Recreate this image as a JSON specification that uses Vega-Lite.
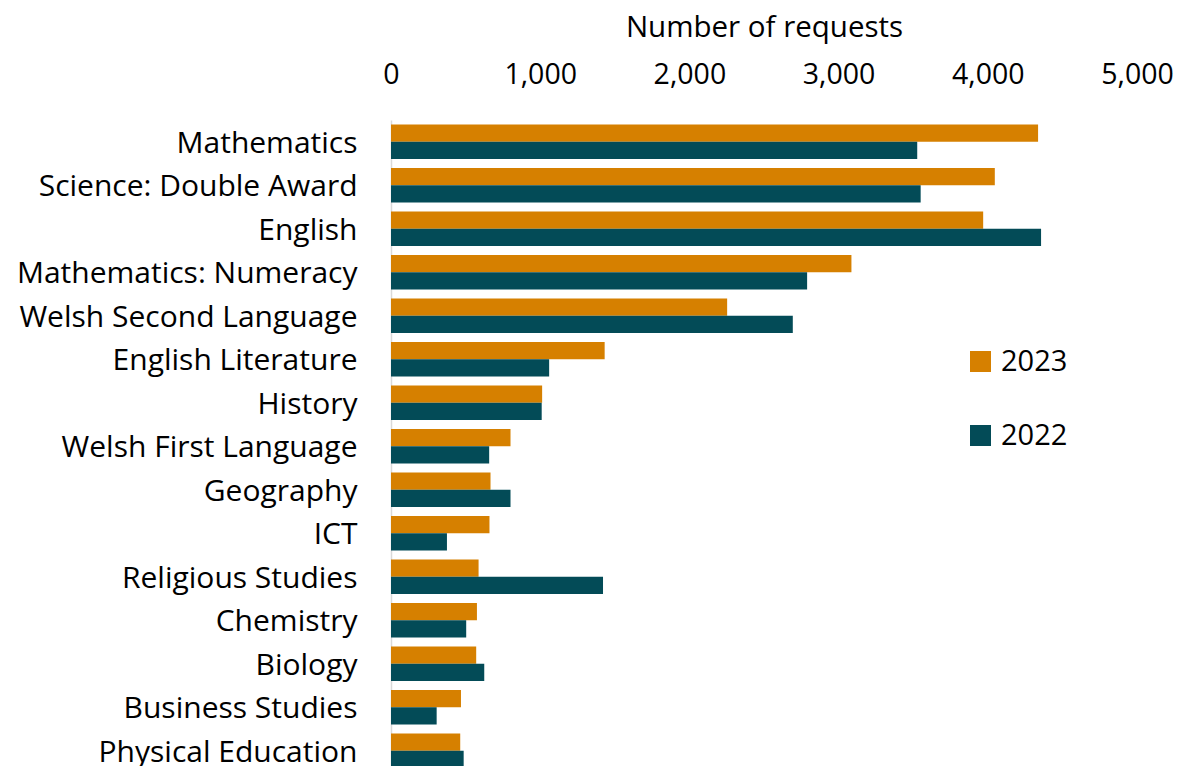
{
  "$schema": "https://vega.github.io/schema/vega-lite/v6.json",
  "autosize": {"type": "none"},
  "padding": {"left": 391, "top": 120, "right": 44, "bottom": 0},
  "width": 746,
  "height": 646,
  "background": "white",
  "config": {
    "view": {"stroke": null},
    "font": "Open Sans",
    "axis": {"labelFont": "Open Sans", "titleFont": "Open Sans", "labelColor": "#000000", "titleColor": "#000000"},
    "legend": {"labelFont": "Open Sans", "labelColor": "#000000"}
  },
  "data": {
    "values": [
      {"subject": "Mathematics", "year": "2023", "requests": 4337},
      {"subject": "Mathematics", "year": "2022", "requests": 3527},
      {"subject": "Science: Double Award", "year": "2023", "requests": 4047},
      {"subject": "Science: Double Award", "year": "2022", "requests": 3550},
      {"subject": "English", "year": "2023", "requests": 3969},
      {"subject": "English", "year": "2022", "requests": 4357},
      {"subject": "Mathematics: Numeracy", "year": "2023", "requests": 3086},
      {"subject": "Mathematics: Numeracy", "year": "2022", "requests": 2789},
      {"subject": "Welsh Second Language", "year": "2023", "requests": 2253},
      {"subject": "Welsh Second Language", "year": "2022", "requests": 2693},
      {"subject": "English Literature", "year": "2023", "requests": 1432},
      {"subject": "English Literature", "year": "2022", "requests": 1060},
      {"subject": "History", "year": "2023", "requests": 1013},
      {"subject": "History", "year": "2022", "requests": 1010},
      {"subject": "Welsh First Language", "year": "2023", "requests": 801},
      {"subject": "Welsh First Language", "year": "2022", "requests": 658},
      {"subject": "Geography", "year": "2023", "requests": 667},
      {"subject": "Geography", "year": "2022", "requests": 801},
      {"subject": "ICT", "year": "2023", "requests": 660},
      {"subject": "ICT", "year": "2022", "requests": 375},
      {"subject": "Religious Studies", "year": "2023", "requests": 587},
      {"subject": "Religious Studies", "year": "2022", "requests": 1421},
      {"subject": "Chemistry", "year": "2023", "requests": 576},
      {"subject": "Chemistry", "year": "2022", "requests": 504},
      {"subject": "Biology", "year": "2023", "requests": 571},
      {"subject": "Biology", "year": "2022", "requests": 625},
      {"subject": "Business Studies", "year": "2023", "requests": 469},
      {"subject": "Business Studies", "year": "2022", "requests": 306},
      {"subject": "Physical Education", "year": "2023", "requests": 464},
      {"subject": "Physical Education", "year": "2022", "requests": 487}
    ]
  },
  "mark": {"type": "bar", "clip": false},
  "encoding": {
    "y": {
      "field": "subject",
      "type": "nominal",
      "sort": null,
      "scale": {"range": [0, 652.5], "paddingInner": 0.21, "paddingOuter": 0.105},
      "axis": {
        "title": null,
        "ticks": false,
        "tickSize": 0,
        "domain": true,
        "domainColor": "#d9d9d9",
        "domainWidth": 1.5,
        "labelFontSize": 30,
        "labelPadding": 34,
        "labelOffset": 2,
        "labelLimit": 400
      }
    },
    "yOffset": {"field": "year", "type": "nominal", "sort": ["2023", "2022"]},
    "x": {
      "field": "requests",
      "type": "quantitative",
      "scale": {"domain": [0, 5000], "nice": false},
      "axis": {
        "orient": "top",
        "title": "Number of requests",
        "titleFontSize": 29.5,
        "titleFontWeight": "normal",
        "titlePadding": 18,
        "values": [0, 1000, 2000, 3000, 4000, 5000],
        "format": ",d",
        "grid": false,
        "domain": false,
        "ticks": false,
        "tickSize": 0,
        "labelFontSize": 28.5,
        "labelPadding": 31,
        "labelFlush": false
      }
    },
    "color": {
      "field": "year",
      "type": "nominal",
      "sort": ["2023", "2022"],
      "scale": {"domain": ["2023", "2022"], "range": ["#D68000", "#034B57"]},
      "legend": {
        "title": null,
        "orient": "none",
        "legendX": 575,
        "legendY": 227,
        "padding": 0,
        "symbolType": "square",
        "symbolSize": 441,
        "symbolStrokeWidth": 0,
        "labelFontSize": 29,
        "labelOffset": 6,
        "rowPadding": 44
      }
    }
  }
}
